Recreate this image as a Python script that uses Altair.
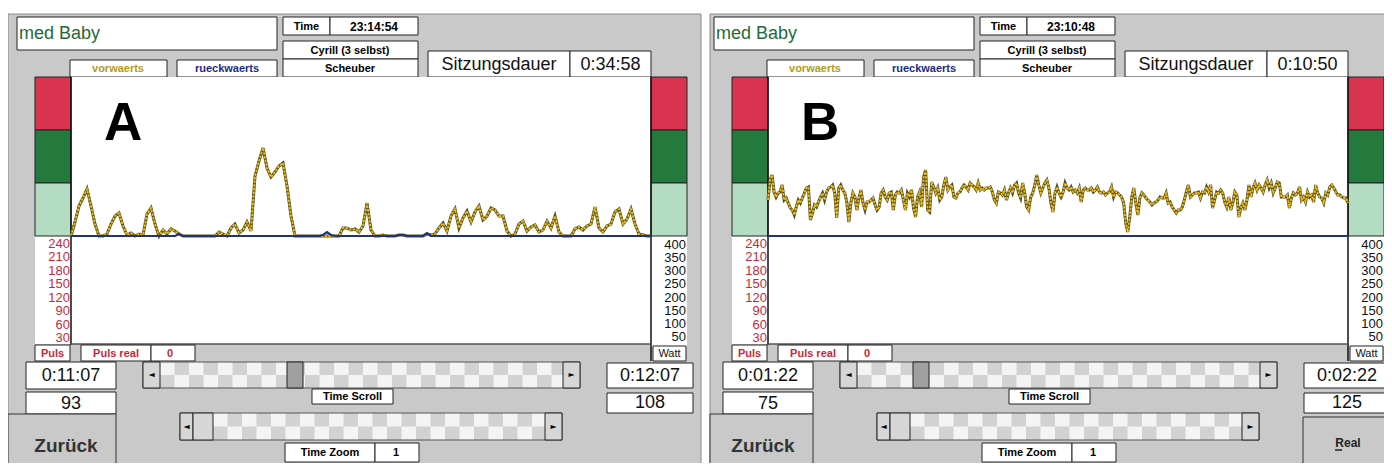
import altair as alt
import pandas as pd

# ---------------- data ----------------
# Panel A: "vorwaerts" power trace, one value every sample (height above baseline, plot units)
watt_a = [
    0, 14, 30, 38, 47, 30, 12, 0, 0, 2,
    12, 20, 23, 10, 1, 3, 0, 2, 1, 22,
    28, 12, 0, 6, 2, 7, 5, 2, 0, 0,
    0, 0, 0, 0, 0, 0, 0, 4, 2, 0,
    8, 12, 3, 6, 14, 5, 60, 75, 88, 68,
    59, 64, 70, 73, 50, 20, 0, 0, 0, 0,
    0, 0, 0, 0, 0, 0, 0, 0, 8, 8,
    6, 7, 4, 10, 33, 6, 0, 0, 1, 0,
    0, 0, 1, 1, 0, 0, 0, 0, 0, 2,
    1, 2, 8, 13, 5, 20, 27, 8, 18, 25,
    14, 24, 30, 16, 20, 28, 26, 20, 20, 5,
    0, 2, 12, 15, 5, 9, 11, 4, 6, 15,
    8, 20, 4, 0, 0, 0, 7, 9, 6, 10,
    12, 29, 8, 4, 10, 12, 24, 27, 12, 17,
    27, 12, 2, 1, 0, 0,
]
# Panel A: "rueckwaerts" trace (blue)
rueck_a = [
    0, 0, 0, 0, 0, 0, 0, 0, 0, 0,
    0, 0, 0, 0, 0, 0, 0, 0, 0, 0,
    0, 0, 0, 0, 0, 0, 0, 2, 0, 0,
    0, 0, 0, 0, 0, 0, 0, 0, 0, 0,
    0, 0, 0, 0, 0, 0, 0, 0, 0, 0,
    0, 0, 0, 0, 0, 0, 0, 0, 0, 0,
    0, 0, 0, 1, 4, 1, 0, 0, 0, 0,
    0, 0, 0, 0, 0, 0, 0, 0, 0, 0,
    0, 0, 1, 1, 0, 0, 0, 0, 0, 3,
    0, 0, 0, 0, 0, 0, 0, 0, 0, 0,
    0, 0, 0, 0, 0, 0, 0, 0, 0, 0,
    0, 0, 0, 0, 0, 0, 0, 0, 0, 0,
    0, 0, 0, 0, 0, 0, 0, 0, 0, 0,
    0, 0, 0, 0, 0, 0, 0, 0, 0, 0,
    0, 0, 0, 0, 0, 0,
]
# Panel B: "vorwaerts" power trace
watt_b = [
    36, 56, 61, 44, 39, 43, 44, 51, 36, 38,
    33, 28, 26, 21, 29, 36, 33, 38, 43, 48,
    49, 16, 23, 31, 29, 34, 39, 43, 36, 44,
    48, 49, 51, 43, 18, 48, 51, 46, 43, 34,
    14, 33, 43, 39, 26, 38, 46, 33, 26, 34,
    34, 36, 38, 31, 26, 29, 43, 46, 39, 36,
    43, 44, 26, 41, 44, 43, 46, 36, 26, 43,
    39, 46, 28, 19, 39, 44, 29, 59, 66, 26,
    24, 54, 49, 43, 48, 36, 39, 51, 59, 46,
    49, 51, 39, 38, 43, 44, 48, 51, 49, 46,
    53, 51, 49, 46, 53, 46, 48, 46, 48, 48,
    49, 44, 36, 33, 44, 43, 41, 46, 36, 43,
    48, 43, 51, 53, 43, 38, 53, 43, 29, 26,
    39, 43, 51, 61, 51, 43, 48, 53, 56, 48,
    33, 24, 43,
    49, 43, 39, 44, 53, 48, 46, 49, 44, 46,
    43, 48, 34, 46, 48, 46, 46, 48, 44, 46,
    49, 44, 43, 44, 41, 43, 44, 49, 39, 44,
    43, 41, 39, 33, 13, 4, 19, 39, 48, 33,
    21, 38, 43, 41, 38, 36, 34, 31, 33, 34,
    36, 39, 38, 38, 43, 33, 34, 29, 26, 23,
    26, 26, 29, 36, 44, 51, 39, 41, 43, 43,
    44, 38, 44, 43, 49, 44, 51, 28, 36, 44,
    43, 46, 43, 34, 29, 39, 26, 33, 44, 41,
    19, 28, 33, 26, 36, 51, 39, 48, 53, 46,
    51, 48, 44, 51, 56, 48, 53, 43, 48, 54,
    53, 39, 39, 39, 41, 28, 38, 43, 41, 43,
    49, 36, 39, 34, 44, 39, 41, 34, 51, 43,
    39, 38, 33, 43, 41, 49, 51, 48, 44, 41,
    41, 39, 38, 38, 33,
]
# Panel B: "rueckwaerts" trace (blue) - flat
rueck_b = [0, 0, 0, 0, 0, 0, 0, 0, 0, 0, 0, 0]

puls_ticks = ["240", "210", "180", "150", "120", "90", "60", "30"]
watt_ticks = ["400", "350", "300", "250", "200", "150", "100", "50"]

panel_info = [
    dict(letter="A", clock="23:14:54", dauer="0:34:58", t_from="0:11:07", t_to="0:12:07",
         v_from="93", v_to="108", real=False),
    dict(letter="B", clock="23:10:48", dauer="0:10:50", t_from="0:01:22", t_to="0:02:22",
         v_from="75", v_to="125", real=True),
]

# ---------------- layout ----------------
W, H = 1376, 455
OX, OY = 8, 8
xs = alt.Scale(domain=[OX, OX + W], range=[0, W])
ys = alt.Scale(domain=[OY, OY + H], range=[0, H])

SANS = "Liberation Sans, Arial, Helvetica, sans-serif"
SYM = "DejaVu Sans, sans-serif"
BG = "#c9c9c9"
RED = "#d9344f"
DGREEN = "#237a3c"
LGREEN = "#b4dcc2"

rects = []
texts = []


def box(x1, y1, x2, y2, fill="white", stroke="#222", sw=1):
    rects.append(dict(x1=x1, y1=y1, x2=x2, y2=y2, fill=fill, stroke=stroke, sw=sw))


def label(x, y, text, size=11, color="#000", weight="bold", align="center",
          baseline="middle", font=SANS):
    texts.append(dict(x=x, y=y, text=text, size=size, color=color, weight=weight,
                      align=align, baseline=baseline, font=font))


def checker(x1, y1, x2, y2, cw=14.5):
    # textured scroll track: two rows of alternating light / dithered cells
    box(x1, y1, x2, y2, fill="#d2d2d2", stroke="none")
    rh = (y2 - y1) / 2.0
    n = int((x2 - x1) / cw) + 1
    for r in range(2):
        for k in range(n):
            if (k + r) % 2 == 0:
                a = x1 + k * cw
                b = min(a + cw, x2)
                if b > a:
                    box(a, y1 + r * rh, b, y1 + (r + 1) * rh, fill="#f4f4f4", stroke="none")


geo = [dict(dx=0, left=8, right=701), dict(dx=697, left=710, right=1400)]

for g, info in zip(geo, panel_info):
    dx = g["dx"]

    def X(v):
        return v + dx

    box(g["left"], 14, g["right"], 480, fill=BG, stroke="#8a8a8a")
    # header
    box(X(17), 17, X(277), 50)
    label(X(19), 34, "med Baby", 18, "#1f6a38", "normal", "left")
    box(X(283), 17, X(330), 35)
    label(X(306.5), 26.5, "Time", 11)
    box(X(330), 17, X(418), 35)
    label(X(374), 26.5, info["clock"], 12)
    box(X(283), 41, X(418), 59)
    label(X(350), 50.5, "Cyrill (3 selbst)", 11)
    box(X(283), 59, X(418), 77)
    label(X(350), 68.5, "Scheuber", 11)
    box(X(70), 60, X(167), 77)
    label(X(118), 69, "vorwaerts", 11, "#b39b1c")
    box(X(177), 60, X(277), 77)
    label(X(227), 69, "rueckwaerts", 11, "#1c2b86")
    box(X(428), 51, X(570), 77)
    label(X(499), 64.5, "Sitzungsdauer", 18, "#111", "normal")
    box(X(570), 51, X(651), 77)
    label(X(610.5), 64.5, info["dauer"], 18, "#111", "normal")
    # plot area and label columns
    box(X(71), 77, X(651), 344, fill="white", stroke="none")
    box(X(35), 236, X(71), 344, fill="white", stroke="none")
    box(X(651), 236, X(687), 347, fill="white", stroke="none")
    for y1, y2, c in [(77, 130, RED), (130, 183, DGREEN), (183, 236, LGREEN)]:
        box(X(35), y1, X(71), y2, fill=c, stroke="#222")
        box(X(651), y1, X(687), y2, fill=c, stroke="#222")
    box(X(71), 77, X(71), 345, fill="none", stroke="#111")
    box(X(651), 77, X(651), 361, fill="none", stroke="#111")
    box(X(71), 344, X(651), 344, fill="none", stroke="#555")
    for i, t in enumerate(puls_ticks):
        label(X(70), 244 + i * 13.43, t, 13, "#c8283c", "normal", "right")
    for i, t in enumerate(watt_ticks):
        label(X(686), 245 + i * 13.14, t, 13, "#111", "normal", "right")
    box(X(653), 346, X(686), 361)
    label(X(669.5), 353.5, "Watt", 11, "#111", "normal")
    # big panel letter
    label(X(104), 140, info["letter"], 53, "#000", "bold", "left", "alphabetic")
    # Puls tabs
    box(X(35), 345, X(70), 361)
    label(X(52.5), 353.5, "Puls", 11, "#c8283c")
    box(X(81), 345, X(151), 361)
    label(X(116), 353.5, "Puls real", 11, "#c8283c")
    box(X(151), 345, X(195), 361)
    label(X(170), 353.5, "0", 11, "#c8283c")
    # left info boxes
    box(X(26), 362, X(116), 389)
    label(X(71), 375.5, info["t_from"], 18, "#111", "normal")
    box(X(26), 392, X(116), 414)
    label(X(71), 403.5, info["v_from"], 18, "#111", "normal")
    box(g["left"], 414, X(116), 480, fill=BG, stroke="#333")
    label(X(66), 446, "Zurück", 19, "#333", "bold")
    # time scroll
    checker(X(160), 362, X(563), 388)
    box(X(143), 362, X(580), 388, fill="none", stroke="#555")
    box(X(143), 362, X(160), 388, fill="#d6d6d6", stroke="#222")
    label(X(151.5), 375, "◄", 8, "#000", "normal", font=SYM)
    thumb = 287 if not info["real"] else 216
    box(X(thumb), 362, X(thumb + 16), 388, fill="#a0a0a0", stroke="#222")
    box(X(563), 362, X(580), 388, fill="#d6d6d6", stroke="#222")
    label(X(571.5), 375, "►", 8, "#000", "normal", font=SYM)
    box(X(312), 389, X(393), 404)
    label(X(352.5), 396.5, "Time Scroll", 11)
    # time zoom
    checker(X(213), 413, X(545), 440)
    box(X(180), 413, X(562), 440, fill="none", stroke="#555")
    box(X(180), 413, X(193), 440, fill="#d6d6d6", stroke="#222")
    label(X(186.5), 426.5, "◄", 8, "#000", "normal", font=SYM)
    box(X(193), 413, X(213), 440, fill="#d6d6d6", stroke="#222")
    box(X(545), 413, X(562), 440, fill="#d6d6d6", stroke="#222")
    label(X(553.5), 426.5, "►", 8, "#000", "normal", font=SYM)
    box(X(285), 443, X(375), 462)
    label(X(330), 452.5, "Time Zoom", 11)
    box(X(375), 443, X(419), 462)
    label(X(396), 452.5, "1", 11)
    # right info boxes
    box(X(607), 363, X(693), 388)
    label(X(650), 375.5, info["t_to"], 18, "#111", "normal")
    box(X(607), 393, X(693), 413)
    label(X(650), 403, info["v_to"], 18, "#111", "normal")
    if info["real"]:
        box(X(606), 417, X(720), 480, fill=BG, stroke="#333")
        label(X(651), 443, "Real", 12, "#222", "bold")
        box(X(638), 450, X(645), 450, fill="none", stroke="#222")

rect_df = pd.DataFrame(rects)
rect_layer = alt.Chart(rect_df).mark_rect().encode(
    x=alt.X("x1:Q", scale=xs, axis=None),
    x2="x2:Q",
    y=alt.Y("y1:Q", scale=ys, axis=None),
    y2="y2:Q",
    fill=alt.Fill("fill:N", scale=None),
    stroke=alt.Stroke("stroke:N", scale=None),
    strokeWidth=alt.StrokeWidth("sw:Q", scale=None),
)

text_layers = []
text_df = pd.DataFrame(texts)
for (weight, align, baseline, font), grp in text_df.groupby(["weight", "align", "baseline", "font"]):
    text_layers.append(
        alt.Chart(grp.reset_index(drop=True)).mark_text(
            align=align, baseline=baseline, fontWeight=weight, font=font
        ).encode(
            x=alt.X("x:Q", scale=xs, axis=None),
            y=alt.Y("y:Q", scale=ys, axis=None),
            text="text:N",
            size=alt.Size("size:Q", scale=None),
            color=alt.Color("color:N", scale=None),
        )
    )


def trace_layers(vals, rueck, dx):
    x0, x1 = 71 + dx - OX, 651 + dx - OX
    yr = [236 - OY, 76 - OY]
    dfw = pd.DataFrame({"t": list(range(len(vals))), "watt": vals})
    dfr = pd.DataFrame({"t": list(range(len(rueck))), "watt": rueck})
    xw = alt.Scale(domain=[0, len(vals) - 1], range=[x0, x1])
    xr = alt.Scale(domain=[0, len(rueck) - 1], range=[x0, x1])
    yw = alt.Scale(domain=[0, 160], range=yr)
    base = alt.Chart(dfw).encode(
        x=alt.X("t:Q", scale=xw, axis=None),
        y=alt.Y("watt:Q", scale=yw, axis=None),
    )
    dark = base.mark_line(color="#55501e", strokeWidth=3)
    yellow = base.mark_line(color="#f0bc1c", strokeWidth=1.8, strokeDash=[2.5, 1.2])
    blue = alt.Chart(dfr).mark_line(color="#23307a", strokeWidth=2.2).encode(
        x=alt.X("t:Q", scale=xr, axis=None),
        y=alt.Y("watt:Q", scale=yw, axis=None),
    )
    return [dark, yellow, blue]


line_layers = trace_layers(watt_a, rueck_a, 0) + trace_layers(watt_b, rueck_b, 697)

chart = alt.layer(rect_layer, *line_layers, *text_layers).resolve_scale(
    x="independent", y="independent"
).properties(
    width=W, height=H,
    autosize=alt.AutoSizeParams(type="none"),
    padding=0,
    background="white",
).configure_view(strokeWidth=0)

chart.save("out.html", embed_options={"renderer": "svg", "actions": False})
